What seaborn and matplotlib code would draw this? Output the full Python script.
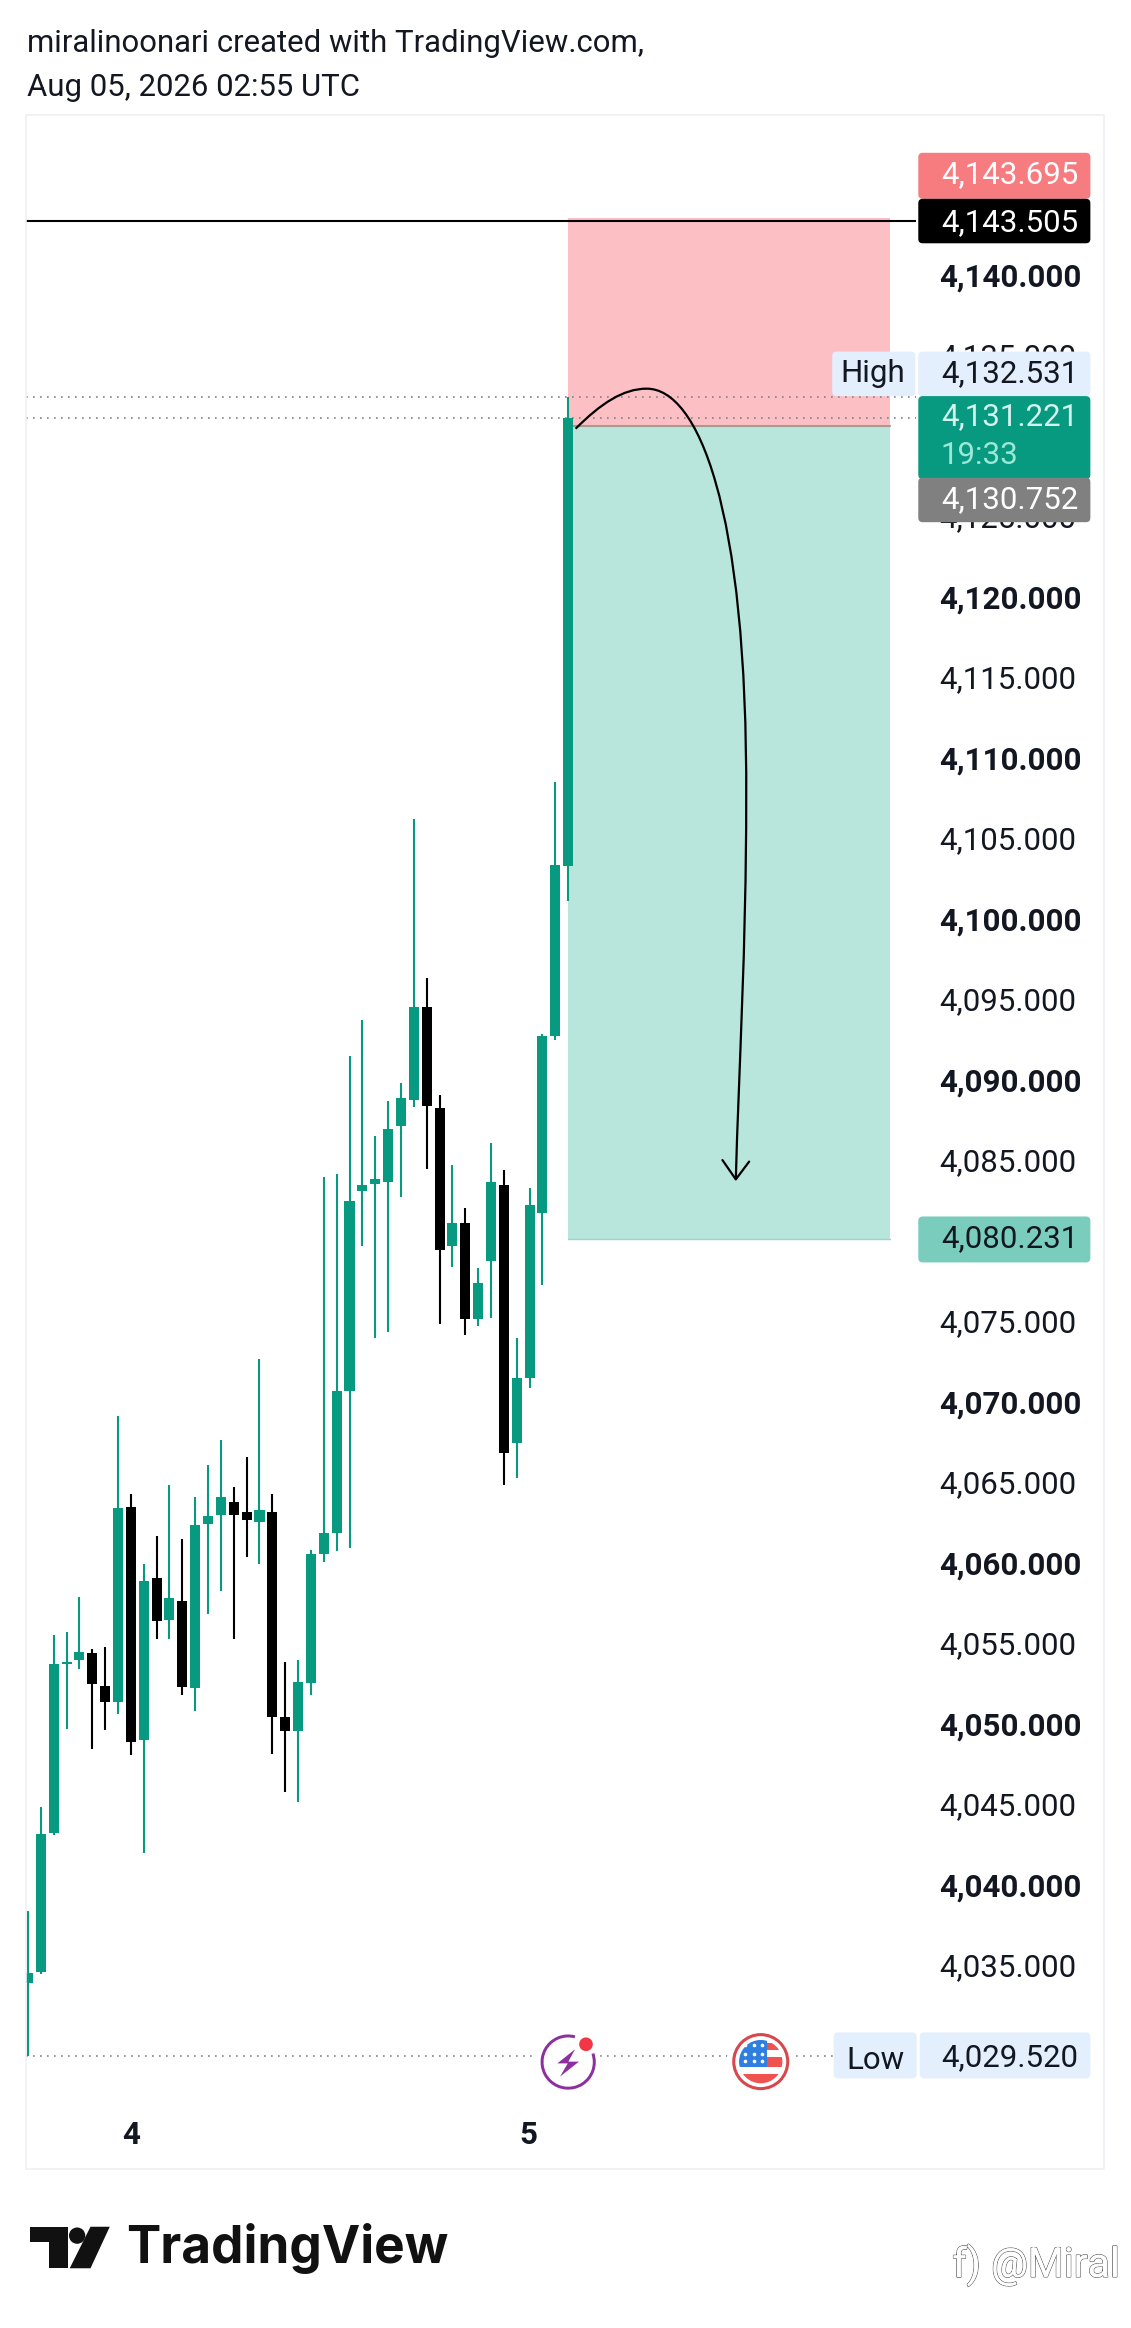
import numpy as np
import pandas as pd
import matplotlib
matplotlib.use('Agg')
import matplotlib.pyplot as plt
import matplotlib.patheffects as pe
from matplotlib.patches import Rectangle, FancyBboxPatch, Circle, Wedge, Polygon, PathPatch
from matplotlib.path import Path
from matplotlib.transforms import ScaledTranslation
import seaborn as sns

# candle values
opens = [4034.06, 4034.73, 4043.39, 4053.85, 4054.12, 4054.52, 4052.47, 4051.51, 4063.63, 4049.13,
         4059.21, 4056.59, 4057.79, 4052.35, 4062.58, 4063.09, 4063.93, 4063.33, 4062.67, 4063.27,
         4050.55, 4049.70, 4052.68, 4060.72, 4062.02, 4070.83, 4083.22, 4083.70, 4083.79, 4087.25,
         4088.90, 4094.68, 4088.42, 4079.82, 4081.26, 4075.28, 4078.89, 4083.58, 4067.58, 4071.61,
         4081.87, 4092.84, 4103.40]
closes = [4034.67, 4043.33, 4053.88, 4053.97, 4054.58, 4052.59, 4051.51, 4063.54, 4049.01, 4059.03,
          4056.53, 4057.97, 4052.41, 4062.52, 4063.06, 4064.26, 4063.09, 4062.79, 4063.45, 4050.58,
          4049.70, 4052.71, 4060.71, 4061.99, 4070.80, 4082.59, 4083.64, 4084.00, 4087.10, 4089.02,
          4094.68, 4088.51, 4079.58, 4081.26, 4075.28, 4077.54, 4083.82, 4066.98, 4071.64, 4082.38,
          4092.87, 4103.49, 4131.221]
highs = [4038.49, 4044.98, 4055.66, 4055.84, 4058.00, 4054.76, 4054.94, 4069.25, 4064.44, 4060.05,
         4061.79, 4064.98, 4061.64, 4064.26, 4066.24, 4067.75, 4064.86, 4066.70, 4072.80, 4064.44,
         4054.00, 4054.12, 4060.92, 4084.12, 4084.30, 4091.61, 4093.84, 4086.65, 4088.81, 4089.93,
         4106.32, 4096.45, 4089.20, 4084.84, 4082.17, 4078.44, 4086.20, 4084.54, 4074.11, 4083.40,
         4093.02, 4108.65, 4132.531]
lows = [4029.52, 4034.61, 4043.24, 4049.82, 4053.55, 4048.59, 4049.76, 4050.76, 4048.20, 4042.12,
        4055.42, 4055.42, 4051.93, 4050.91, 4056.98, 4058.42, 4055.42, 4060.50, 4060.05, 4048.29,
        4045.88, 4045.28, 4051.96, 4060.20, 4060.90, 4061.05, 4079.85, 4074.08, 4074.47, 4082.86,
        4088.45, 4084.60, 4074.98, 4078.50, 4074.29, 4074.86, 4075.34, 4064.99, 4065.41, 4071.01,
        4077.38, 4092.60, 4101.23]

# 4030, 4080 and 4130 sit under the price labels
price_ticks = [p for p in range(4035, 4145, 5) if p not in (4080, 4130)]
day_ticks = [8.0, 38.9]
day_labels = ['4', '5']

target_price = 4143.505
stop_top = 4143.695
entry_price = 4130.752
take_profit = 4080.231
session_high = 4132.531
last_price = 4131.221
session_low = 4029.520

GREEN = '#089981'
BLACK = '#000000'
DOT = '#80838c'

sns.set_theme(style='white')
plt.rcParams['font.family'] = ['Roboto', 'DejaVu Sans']

W, H = 1131, 2328
S = 1.4835  # overlay coordinates below were measured on a picture shrunk by this much

fig = plt.figure(figsize=(W / 100, H / 100), dpi=100, facecolor='white')

# price pane
left, right, top, bottom = 26, 916, 115, 2099
ax = fig.add_axes([left / W, 1 - bottom / H, (right - left) / W, (bottom - top) / H])
ax.set_facecolor('none')

df = pd.DataFrame({'i': np.arange(len(opens)), 'open': opens, 'close': closes, 'high': highs, 'low': lows})
df['up'] = df['close'] >= df['open']
df['base'] = df[['open', 'close']].min(axis=1)
df['size'] = (df['close'] - df['open']).abs()

wicks = df.melt(id_vars=['i', 'up'], value_vars=['low', 'high'], value_name='price').sort_values(['i', 'price'])

# position tool behind the candles
ax.add_patch(Rectangle((42, entry_price), 25.03, stop_top - entry_price, fc='#fcc0c4', ec='none', zorder=1))
ax.add_patch(Rectangle((42, take_profit), 25.03, entry_price - take_profit, fc='#b8e5dc', ec='none', zorder=1))
ax.plot([42, 67.03], [entry_price, entry_price], color='#a89a90', lw=1.5, zorder=1.5)
ax.plot([42, 67.03], [take_profit, take_profit], color='#9bd6ca', lw=1, zorder=1.5)

for up, color in [(True, GREEN), (False, BLACK)]:
    part = df[df['up'] == up]
    sns.lineplot(data=wicks[wicks['up'] == up], x='i', y='price', units='i', estimator=None, sort=False,
                 color=color, lw=1.5, solid_capstyle='butt', legend=False, ax=ax, zorder=3)
    sns.barplot(data=part, x='i', y='size', bottom=part['base'].values, native_scale=True, color=color,
                saturation=1, width=0.78, errorbar=None, linewidth=0, ax=ax, zorder=3)

ax.axhline(target_price, color='black', lw=1.5, zorder=4)
for p in [session_high, last_price, session_low]:
    ax.axhline(p, color=DOT, lw=1.2, ls=(0, (1, 3.2)), zorder=2)

ax.set_xlim(-0.156, 69.05)
ax.set_ylim(4026.84, 4150.07)
ax.set_xlabel('')
ax.set_ylabel('')
sns.despine(ax=ax, left=True, bottom=True)
ax.yaxis.tick_right()
ax.set_yticks(price_ticks)
ax.set_yticklabels([f'{p:,.3f}' for p in price_ticks])
ax.set_xticks(day_ticks)
ax.set_xticklabels(day_labels, fontweight='bold')
ax.tick_params(axis='y', length=0, pad=16.5, labelsize=22.5, labelcolor='#131722')
ax.tick_params(axis='x', length=0, pad=15, labelsize=22.5, labelcolor='#131722')
# labels sit a little above their level in the reference; tick_params resets transforms, so do this after it
nudge = ScaledTranslation(0, 3 / 100, fig.dpi_scale_trans)
for lab, p in zip(ax.get_yticklabels(), price_ticks):
    lab.set_fontweight('bold' if p % 10 == 0 else 'normal')
    lab.set_transform(lab.get_transform() + nudge)

# overlay: frame, price labels, drawing, logo
ov = fig.add_axes([0, 0, 1, 1], facecolor='none', zorder=5)
ov.set_xlim(0, W / S)
ov.set_ylim(H / S, 0)
ov.axis('off')

ov.add_patch(Rectangle((17.5, 77.5), 727, 1384.5, fc='none', ec='#eef0f4', lw=1.2))


def box(x0, y0, x1, y1, color, z=6):
    ov.add_patch(FancyBboxPatch((x0, y0), x1 - x0, y1 - y0, boxstyle='round,pad=0,rounding_size=3',
                                fc=color, ec='none', zorder=z))


def price_label(y, txt, color, **kw):
    ov.text(727, y, txt, color=color, ha='right', va='center_baseline', fontsize=22.5, zorder=8, **kw)


box(619, 103, 735, 134, '#f77c80')
price_label(116, f'{stop_top:,.3f}', 'white')
box(619, 134, 735, 164, '#000000')
price_label(148, f'{target_price:,.3f}', 'white')

box(561, 237, 617, 267, '#e3effd')
ov.text(588, 250, 'High', color='#131722', ha='center', va='center_baseline', fontsize=22.5, zorder=8)
box(619, 237, 735, 267, '#e3effd')
price_label(250, f'{session_high:,.3f}', '#131722')
box(619, 267, 735, 323, GREEN)
price_label(279, f'{last_price:,.3f}', '#d3f3ec')
ov.text(634, 305, '19:33', color='#9be8d6', ha='left', va='center_baseline', fontsize=22.5, zorder=8)
box(619, 322, 735, 352, '#808080')
price_label(335, f'{entry_price:,.3f}', 'white')

box(619, 820, 735, 851, '#7acdbd')
price_label(833, f'{take_profit:,.3f}', '#131722')

box(562, 1370, 618, 1401, '#e3effd')
ov.text(590, 1387, 'Low', color='#131722', ha='center', va='center_baseline', fontsize=22.5, zorder=8)
box(620, 1370, 735, 1401, '#e3effd')
price_label(1385, f'{session_low:,.3f}', '#131722')

# hand drawn arrow
curve = Path([(388, 289), (405, 272), (420, 262), (436, 262),
              (470, 262), (504, 340), (503, 540),
              (503, 640), (498, 720), (496, 795)],
             [Path.MOVETO] + [Path.CURVE4] * 9)
ov.add_patch(PathPatch(curve, fc='none', ec='black', lw=1.6, zorder=6))
ov.plot([487, 496, 505], [782, 795, 783], color='black', lw=1.6, zorder=6)

# event icons on the low line (y runs downwards here, so the angles run clockwise)
ov.add_patch(Circle((383, 1390), 22, fc='white', ec='none', zorder=5))
ov.add_patch(Wedge((383, 1390), 18.6, 341, 285, width=2, fc='#8e2fa0', ec='none', zorder=6))
ov.add_patch(Polygon([(387.6, 1381.4), (375.7, 1390.9), (382.7, 1390.9), (377.5, 1399.8), (390.3, 1389.7), (383.1, 1389.7)],
                     fc='#8e2fa0', ec='none', zorder=6))
ov.add_patch(Circle((395, 1378), 4.6, fc='#f23645', ec='none', zorder=7))

ov.add_patch(Circle((512.8, 1389.7), 23, fc='white', ec='none', zorder=5))
flag = Circle((512.8, 1389.7), 14.6, transform=ov.transData)
for x0, y0, x1, y1, c in [(498, 1375, 517.2, 1393.3, '#2f7fe0'),
                          (517.2, 1377.3, 528, 1381.8, '#ef5350'),
                          (517.2, 1386.3, 528, 1393.3, '#ef5350'),
                          (498, 1397.8, 528, 1405, '#ef5350')]:
    part_patch = Rectangle((x0, y0), x1 - x0, y1 - y0, fc=c, ec='none', zorder=6)
    ov.add_patch(part_patch)
    part_patch.set_clip_path(flag)
for sy in [1378.6, 1384.3, 1389.2]:
    ov.plot([502.5, 508.1, 513.7], [sy, sy, sy], ls='none', marker='o', ms=2.6, mfc='white', mec='none', zorder=7)
ov.add_patch(Circle((512.8, 1389.7), 18.2, fc='none', ec='#d9474e', lw=2.2, zorder=7))

# header
ov.text(18, 29, 'miralinoonari created with TradingView.com,', color='#131722', va='center', fontsize=22.4)
ov.text(18, 59, 'Aug 05, 2026 02:55 UTC', color='#131722', va='center', fontsize=22.4)

# logo
ov.add_patch(Polygon([(20, 1501), (46, 1501), (46, 1529), (33, 1529), (33, 1511), (20, 1511)], fc='#111111', ec='none'))
ov.add_patch(Circle((52, 1507), 5.5, fc='#111111', ec='none'))
ov.add_patch(Polygon([(61, 1501), (74, 1501), (61, 1529), (47, 1529)], fc='#111111', ec='none'))
ov.text(85, 1516, 'TradingView', color='#111111', va='center', fontfamily='Inter', fontweight='bold', fontsize=37)

# watermark
for txt, x, ha in [('f)', 642, 'left'), ('@Miral', 755, 'right')]:
    wm = ov.text(x, 1527, txt, color='white', ha=ha, va='center', fontsize=29.5)
    wm.set_path_effects([pe.withStroke(linewidth=1.0, foreground='#555555'), pe.Normal()])

fig.savefig('out.png', dpi=100, facecolor='white')
